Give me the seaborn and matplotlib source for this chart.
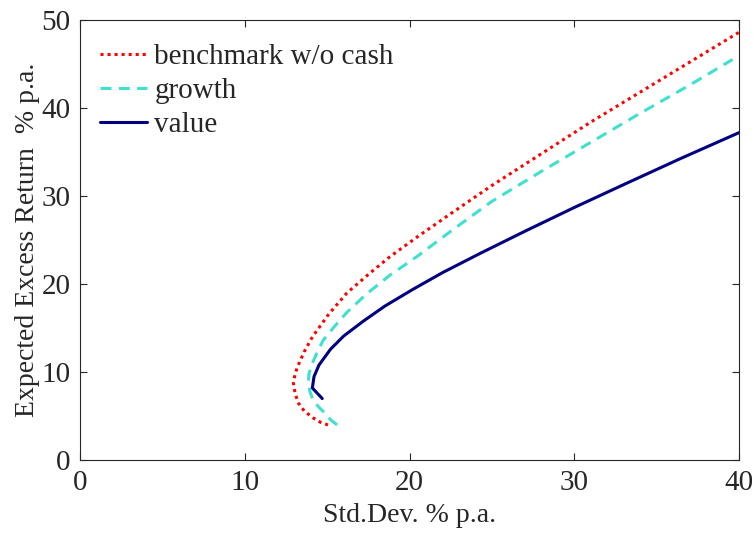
import pandas as pd
import matplotlib
matplotlib.use("Agg")
import matplotlib.pyplot as plt
import seaborn as sns

# frontier points: (std.dev, expected excess return), % p.a.
bench_sd = [15.05, 14.6, 14.15, 13.6, 13.25, 13.05, 12.95, 13.05, 13.2, 13.6, 14.1, 15.1,
            16.2, 17.5, 18.8, 20.5, 22.5, 25.0, 28.0, 31.0, 34.0, 37.0, 40.0]
bench_ret = [4.0, 4.3, 4.8, 5.6, 6.5, 7.6, 8.75, 9.8, 10.6, 12.3, 14.0, 16.6,
             19.0, 21.1, 23.1, 25.4, 28.0, 31.2, 34.8, 38.4, 41.8, 45.2, 48.6]

growth_sd = [15.6, 15.2, 14.9, 14.5, 14.15, 13.95, 13.85, 13.9, 14.1, 14.4, 14.75, 15.4,
             16.2, 17.4, 18.8, 20.5, 22.5, 25.0, 28.0, 31.0, 34.0, 37.0, 39.6]
growth_ret = [4.0, 4.6, 5.3, 6.0, 6.8, 7.8, 8.75, 9.9, 11.0, 12.3, 13.6, 15.1,
              16.8, 18.9, 21.0, 23.2, 26.0, 29.4, 32.8, 36.1, 39.4, 42.6, 45.5]

value_sd = [14.7, 14.1, 14.2, 14.5, 15.2, 16.0, 17.2, 18.5, 20.2, 22.0, 24.3, 27.0,
            30.0, 33.0, 36.5, 40.0]
value_ret = [7.0, 8.2, 9.5, 10.8, 12.6, 14.1, 15.8, 17.5, 19.4, 21.3, 23.5, 26.0,
             28.7, 31.3, 34.3, 37.2]

names = ["benchmark w/o cash", "growth", "value"]
colors = ["#ff0000", "#40e0d0", "#000080"]


def build_frame():
    parts = []
    for name, sd, ret in zip(names, [bench_sd, growth_sd, value_sd],
                             [bench_ret, growth_ret, value_ret]):
        parts.append(pd.DataFrame({"sd": sd, "ret": ret, "series": name}))
    return pd.concat(parts, ignore_index=True)


data = build_frame()

sns.set_style("ticks")
plt.rcParams["font.family"] = ["Liberation Serif", "DejaVu Serif"]

fig = plt.figure(figsize=(7.55, 5.37), dpi=100)
ax = fig.add_axes([0.106, 0.143, 0.873, 0.820])

sns.lineplot(
    data=data, x="sd", y="ret", hue="series", style="series",
    hue_order=names, style_order=names,
    palette=dict(zip(names, colors)),
    dashes={names[0]: (1, 1.3), names[1]: (3.6, 2.4), names[2]: ""},
    sort=False, estimator=None, linewidth=2.2, ax=ax,
)

ax.set_xlim(0, 40)
ax.set_ylim(0, 50)
ax.set_xticks([0, 10, 20, 30, 40])
ax.set_yticks([0, 10, 20, 30, 40, 50])
ax.set_xlabel("Std.Dev. % p.a.", fontsize=20, labelpad=5)
ax.set_ylabel("Expected Excess Return  % p.a.", fontsize=20, labelpad=1)
ax.tick_params(direction="in", top=True, right=True, length=5,
               labelsize=21, color="#262626", width=0.8, pad=7)
for s in ax.spines.values():
    s.set_visible(True)
    s.set_color("#262626")
    s.set_linewidth(0.8)

leg = ax.legend(loc="upper left", frameon=False, fontsize=21,
                handlelength=1.6, handletextpad=0.25, labelspacing=0.26,
                borderaxespad=0.3, bbox_to_anchor=(0.0, 0.992))

fig.savefig("out.png", dpi=100)
plt.close(fig)
